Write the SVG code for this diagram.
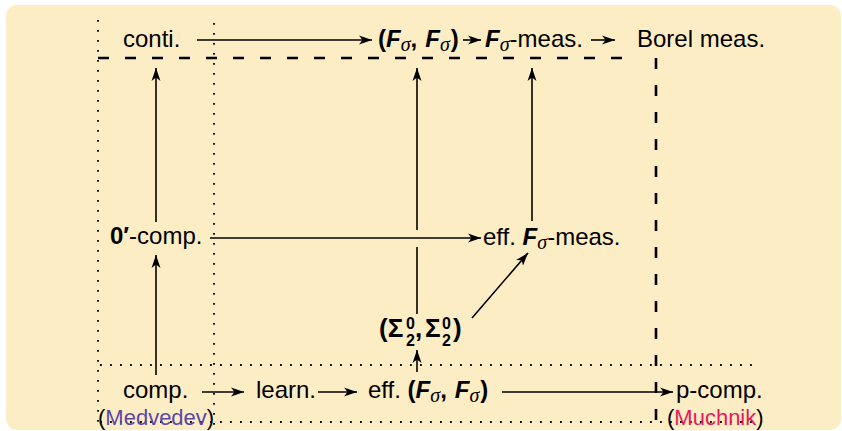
<svg xmlns="http://www.w3.org/2000/svg" width="842" height="431" viewBox="0 0 842 431">
<style>
.t{font-family:"Liberation Sans",Arial,sans-serif;font-size:24px;fill:#000}
.b{font-weight:bold}
.F{font-weight:bold;font-style:italic}
.sig{font-family:"Liberation Serif","Times New Roman",serif;font-style:italic;font-size:20px}
.sm{font-family:"Liberation Sans",Arial,sans-serif;font-size:22px}
.bs{font-family:"Liberation Sans",Arial,sans-serif;font-weight:bold;font-size:26px}
.sc{font-family:"Liberation Sans",Arial,sans-serif;font-weight:bold;font-size:16px}
.ar{stroke:#000;stroke-width:1.6;fill:none;marker-end:url(#ah)}
.ln{stroke:#000;stroke-width:1.6;fill:none}
.dot{stroke:#000;stroke-width:1.8;stroke-dasharray:1.8 8.2;fill:none}
.dash{stroke:#000;stroke-width:2.6;stroke-dasharray:11 16;fill:none}
</style>
<defs>
<marker id="ah" markerUnits="userSpaceOnUse" markerWidth="14" markerHeight="10" viewBox="0 0 14 10" refX="13" refY="5" orient="auto">
<path d="M0,0.5 L13,5 L0,9.5 L3.5,5 Z" fill="#000"/>
</marker>
</defs>
<rect x="6" y="5" width="835" height="425" rx="11" fill="#FDEDC4"/>
<g id="guides">
<line class="dot" x1="98" y1="20" x2="98" y2="425"/>
<line class="dot" x1="214" y1="23" x2="214" y2="425"/>
<line class="dot" x1="100" y1="365" x2="755" y2="365"/>
<line class="dot" x1="100" y1="422" x2="755" y2="422"/>
<line class="dash" x1="98" y1="58" x2="625" y2="58"/>
<line class="dash" x1="656" y1="58" x2="656" y2="425"/>
</g>
<g id="connectors">
<line class="ar" x1="197" y1="40" x2="372" y2="40"/>
<line class="ar" x1="463" y1="40" x2="481" y2="40"/>
<line class="ar" x1="591" y1="40" x2="615" y2="40"/>
<line class="ar" x1="156" y1="222" x2="156" y2="68"/>
<line class="ar" x1="156" y1="375" x2="156" y2="255"/>
<line class="ar" x1="532" y1="221" x2="532" y2="68"/>
<line class="ar" x1="417" y1="230" x2="417" y2="68"/>
<line class="ln" x1="417" y1="247" x2="417" y2="314"/>
<line class="ar" x1="210" y1="238" x2="481" y2="238"/>
<line class="ar" x1="472" y1="318" x2="528" y2="253"/>
<line class="ar" x1="417" y1="372" x2="417" y2="350"/>
<line class="ar" x1="202" y1="392" x2="244" y2="392"/>
<line class="ar" x1="318" y1="392" x2="357" y2="392"/>
<line class="ar" x1="502" y1="392" x2="673" y2="392"/>
</g>
<g id="conti"><text class="t" x="123" y="47">conti.</text></g>
<g id="fsfs"><text class="t" x="378" y="47"><tspan class="b">(</tspan><tspan class="F">F</tspan><tspan class="sig" dy="4">σ</tspan><tspan class="b" dy="-4">,</tspan><tspan class="F" dx="8">F</tspan><tspan class="sig" dy="4">σ</tspan><tspan class="b" dy="-4" dx="1">)</tspan></text></g>
<g id="fsmeas"><text class="t" x="485" y="47"><tspan class="F">F</tspan><tspan class="sig" dy="4">σ</tspan><tspan dy="-4">-meas.</tspan></text></g>
<g id="borel"><text class="t" x="637" y="47">Borel meas.</text></g>
<g id="zerocomp"><text class="t" x="110" y="244"><tspan class="b">0′</tspan>-comp.</text></g>
<g id="efffsmeas"><text class="t" x="483" y="245">eff. <tspan class="F">F</tspan><tspan class="sig" dy="4">σ</tspan><tspan dy="-4">-meas.</tspan></text></g>
<g id="sigma">
<text class="bs" x="379" y="337">(Σ</text>
<text class="sc" x="406" y="329">0</text>
<text class="sc" x="406" y="346">2</text>
<text class="bs" x="415" y="337">,</text>
<text class="bs" x="425" y="337">Σ</text>
<text class="sc" x="442" y="329">0</text>
<text class="sc" x="442" y="346">2</text>
<text class="bs" x="453" y="337">)</text>
</g>
<g id="comp"><text class="t" x="123" y="398">comp.</text><text class="sm" x="98" y="425">(<tspan fill="#5A48A8">Medvedev</tspan>)</text></g>
<g id="learn"><text class="t" x="256" y="398">learn.</text></g>
<g id="efffsfs"><text class="t" x="368" y="398">eff. <tspan class="b">(</tspan><tspan class="F">F</tspan><tspan class="sig" dy="4">σ</tspan><tspan class="b" dy="-4">,</tspan><tspan class="F" dx="8">F</tspan><tspan class="sig" dy="4">σ</tspan><tspan class="b" dy="-4" dx="1">)</tspan></text></g>
<g id="pcomp"><text class="t" x="676" y="398">p-comp.</text><text class="sm" x="667" y="425">(<tspan fill="#E8195A">Muchnik</tspan>)</text></g>
</svg>
